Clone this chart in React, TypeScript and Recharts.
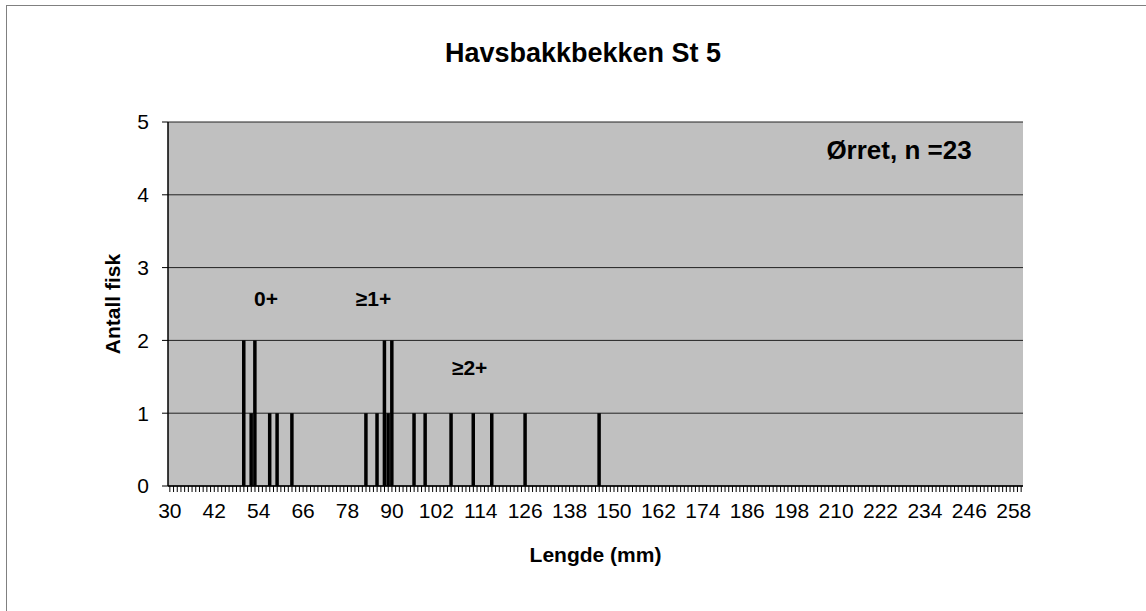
import { BarChart, Bar, XAxis, YAxis, CartesianGrid, ReferenceDot } from 'recharts';

// fish lengths (mm) found in the sample and how many fish had each length
const lengths = [50, 52, 53, 57, 59, 63, 83, 86, 88, 89, 90, 96, 99, 106, 112, 117, 126, 146];
const counts = [2, 1, 2, 1, 1, 1, 1, 1, 2, 1, 2, 1, 1, 1, 1, 1, 1, 1];

const firstLength = 30;
const lastLength = 260;
const xTickLabels = [30, 42, 54, 66, 78, 90, 102, 114, 126, 138, 150, 162, 174, 186, 198, 210, 222, 234, 246, 258];
const yTicks = [0, 1, 2, 3, 4, 5];

const FONT = '"Liberation Sans", Arial, sans-serif';

const chartData: { len: number; count: number }[] = [];
for (let l = firstLength; l <= lastLength; l++) {
  const i = lengths.indexOf(l);
  chartData.push({ len: l, count: i >= 0 ? counts[i] : 0 });
}

function LengthTick(props: any) {
  const { x, y, payload } = props;
  const v = payload.value as number;
  return (
    <g>
      <line x1={x} x2={x} y1={y} y2={y + 6} stroke="#000" strokeWidth={1} />
      {xTickLabels.includes(v) && (
        <text x={x} y={y + 32} textAnchor="middle" fontSize={21} fill="#000" fontFamily={FONT}>
          {v}
        </text>
      )}
    </g>
  );
}

const annoStyle = { fontSize: 21, fontWeight: 'bold', fill: '#000', fontFamily: FONT };

export default function App() {
  return (
    <div
      style={{
        position: 'fixed',
        left: 0,
        top: 0,
        width: 1146,
        height: 611,
        overflow: 'hidden',
        background: '#fff',
        fontFamily: FONT,
      }}
    >
      <div
        style={{
          position: 'absolute',
          left: 6,
          top: 5,
          width: 1200,
          height: 700,
          borderLeft: '1px solid #808080',
          borderTop: '1px solid #808080',
        }}
      />
      <div
        style={{
          position: 'absolute',
          left: 283,
          top: 38,
          width: 600,
          textAlign: 'center',
          fontSize: 27,
          fontWeight: 'bold',
          color: '#000',
        }}
      >
        Havsbakkbekken St 5
      </div>
      <div style={{ position: 'absolute', left: 0, top: 0 }}>
        <BarChart
          width={1146}
          height={611}
          data={chartData}
          margin={{ top: 122, right: 123, bottom: 35, left: 98 }}
          barSize={3.5}
        >
          <CartesianGrid vertical={false} stroke="#222" fill="#C0C0C0" fillOpacity={1} />
          <XAxis
            dataKey="len"
            interval={0}
            tickLine={false}
            tickSize={0}
            tickMargin={0}
            height={90}
            axisLine={{ stroke: '#000', strokeWidth: 1.5 }}
            tick={<LengthTick />}
            label={{
              value: 'Lengde (mm)',
              position: 'insideBottom',
              offset: 14,
              style: { fontSize: 21, fontWeight: 'bold', fill: '#000', fontFamily: FONT },
            }}
          />
          <XAxis
            xAxisId="top"
            dataKey="len"
            orientation="top"
            height={0}
            tick={false}
            tickLine={false}
            axisLine={{ stroke: '#808080', strokeWidth: 2 }}
          />
          <YAxis
            domain={[0, 5]}
            ticks={yTicks}
            interval={0}
            width={70}
            tickSize={6}
            tickMargin={13}
            tickLine={{ stroke: '#000' }}
            axisLine={{ stroke: '#000', strokeWidth: 1.5 }}
            tick={{ fontSize: 21, fill: '#000', fontFamily: FONT }}
            label={{
              value: 'Antall fisk',
              angle: -90,
              position: 'insideLeft',
              offset: 15,
              style: { fontSize: 21, fontWeight: 'bold', fill: '#000', fontFamily: FONT, textAnchor: 'middle' },
            }}
          />
          <YAxis
            yAxisId="right"
            orientation="right"
            domain={[0, 5]}
            width={0}
            tick={false}
            tickLine={false}
            axisLine={{ stroke: '#808080', strokeWidth: 2 }}
          />
          <Bar dataKey="count" fill="#000" isAnimationActive={false} />
          <ReferenceDot x={56} y={2.58} r={0} stroke="none" label={{ value: '0+', position: 'center', ...annoStyle }} />
          <ReferenceDot x={85} y={2.58} r={0} stroke="none" label={{ value: '≥1+', position: 'center', ...annoStyle }} />
          <ReferenceDot x={111} y={1.63} r={0} stroke="none" label={{ value: '≥2+', position: 'center', ...annoStyle }} />
          <ReferenceDot
            x={227}
            y={4.62}
            r={0}
            stroke="none"
            label={{ value: 'Ørret, n =23', position: 'center', ...annoStyle, fontSize: 26 }}
          />
        </BarChart>
      </div>
    </div>
  );
}
